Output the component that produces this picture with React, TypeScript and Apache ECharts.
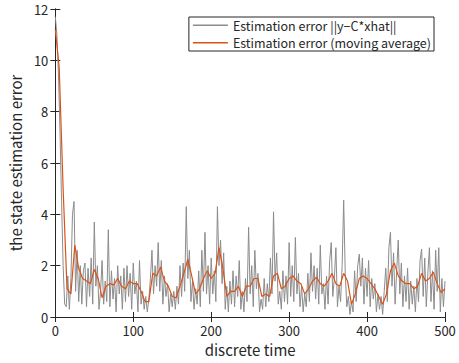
import React, { useEffect, useRef } from "react";
import * as echarts from "echarts";

// raw error ||y - C*xhat||, sampled every 2 time steps (t = 0, 2, ..., 500)
const rawStep = 2;
const rawError = [
  11.7, 11.0, 9.5, 7.2, 4.5, 2.0, 0.5, 0.4, 1.6, 0.3,
  1.5, 4.0, 4.5, 1.0, 2.6, 0.6, 2.0, 0.5, 1.8, 2.1,
  0.4, 1.9, 0.8, 2.3, 0.5, 3.7, 1.2, 2.0, 0.3, 1.0,
  2.2, 0.5, 1.4, 0.6, 3.4, 0.4, 1.8, 0.7, 1.5, 0.2,
  2.0, 0.9, 1.6, 0.3, 1.9, 0.6, 2.0, 0.8, 1.7, 0.3,
  2.1, 0.9, 1.4, 0.2, 2.2, 0.5, 1.0, 0.3, 0.8, 0.2,
  0.7, 1.5, 2.6, 0.9, 2.0, 1.2, 2.9, 1.0, 2.2, 0.5,
  1.6, 0.8, 1.3, 0.2, 0.9, 0.4, 1.0, 0.3, 1.2, 0.5,
  2.0, 0.8, 2.1, 1.0, 4.3, 1.5, 2.6, 0.6, 1.4, 0.3,
  1.1, 0.5, 1.8, 0.4, 2.6, 1.0, 3.3, 0.9, 2.0, 0.5,
  2.3, 0.9, 1.8, 0.6, 4.3, 2.0, 3.0, 1.3, 2.5, 0.3,
  1.2, 0.2, 1.4, 0.5, 1.8, 0.4, 1.6, 0.8, 2.2, 0.3,
  1.0, 0.2, 1.5, 0.6, 3.5, 0.9, 2.0, 0.4, 2.6, 1.1,
  1.7, 0.2, 0.7, 0.3, 1.5, 0.4, 1.3, 0.6, 2.3, 0.9,
  4.1, 1.4, 2.5, 0.5, 1.0, 0.3, 1.8, 0.6, 1.6, 0.5,
  2.9, 0.8, 2.0, 0.6, 3.1, 0.9, 1.7, 0.4, 1.2, 0.2,
  0.9, 0.4, 1.7, 0.6, 2.5, 1.0, 2.0, 0.7, 1.9, 0.5,
  2.8, 0.9, 1.3, 0.3, 1.6, 0.5, 2.2, 2.9, 0.8, 1.5,
  2.7, 0.4, 1.2, 0.6, 2.0, 4.55, 1.7, 0.4, 0.8, 0.1,
  0.6, 0.2, 1.8, 0.6, 2.0, 2.45, 1.2, 2.3, 0.5, 1.9,
  0.8, 2.2, 0.4, 1.5, 0.7, 1.3, 0.2, 0.9, 0.3, 0.8,
  0.1, 1.0, 1.9, 0.6, 2.7, 3.3, 1.2, 2.5, 0.5, 1.8,
  3.0, 0.9, 2.1, 0.4, 1.6, 0.6, 1.9, 0.3, 1.4, 0.5,
  1.2, 0.2, 1.5, 0.6, 2.2, 2.65, 0.8, 2.3, 0.4, 1.7,
  2.7, 0.6, 1.8, 0.3, 2.6, 1.0, 2.7, 0.2, 1.5, 0.4,
  1.4,
];

// moving average, sampled every 5 time steps (t = 0, 5, ..., 500)
const avgStep = 5;
const movingAvg = [
  11.2, 9.7, 5.0, 1.1, 0.9, 2.8, 1.9, 1.5, 1.4, 1.3,
  1.85, 1.5, 0.75, 1.2, 1.3, 1.25, 1.5, 1.2, 1.1, 1.4,
  1.3, 1.3, 1.0, 0.6, 0.6, 1.7, 1.6, 1.95, 1.4, 1.2,
  0.8, 0.75, 1.2, 1.7, 2.25, 1.6, 0.9, 1.1, 1.5, 1.8,
  1.5, 1.7, 2.7, 1.9, 0.8, 1.0, 1.0, 1.2, 0.8, 1.2,
  1.2, 1.5, 1.5, 0.8, 0.9, 0.8, 1.6, 1.7, 1.1, 1.2,
  1.5, 1.6, 1.4, 1.3, 0.9, 1.1, 1.4, 1.55, 1.3, 1.2,
  1.4, 1.7, 1.3, 1.2, 1.7, 1.4, 0.5, 0.9, 1.5, 1.6,
  1.5, 1.3, 1.1, 0.8, 0.5, 0.9, 1.8, 2.1, 1.6, 1.4,
  1.3, 1.3, 1.1, 1.2, 1.7, 1.4, 1.5, 1.75, 1.3, 0.95,
  1.1,
];

const xTicks = [0, 100, 200, 300, 400, 500];
const yTicks = [0, 2, 4, 6, 8, 10, 12];
const seriesNames = [
  "Estimation error ||y−C*xhat||",
  "Estimation error (moving average)",
];
const xTitle = "discrete time";
const yTitle = "the state estimation error";

const FONT = "'Noto Sans CJK JP', 'Noto Sans', sans-serif";
const INK = "#262626";
const GRAY = "#8c8c8c";
const ORANGE = "#d95319";

export default function App() {
  const ref = useRef<HTMLDivElement>(null);
  useEffect(() => {
    if (!ref.current) return;
    const chart = echarts.init(ref.current, undefined, { renderer: "svg" });
    const xMin = xTicks[0];
    const xMax = xTicks[xTicks.length - 1];
    const xInt = xTicks[1] - xTicks[0];
    const yMin = yTicks[0];
    const yMax = yTicks[yTicks.length - 1];
    const yInt = yTicks[1] - yTicks[0];
    const axisCommon = {
      type: "value" as const,
      splitLine: { show: false },
      axisLine: { show: true, lineStyle: { color: INK, width: 1 } },
      axisTick: { show: true, inside: true, length: 5, lineStyle: { color: INK } },
    };
    chart.setOption({
      animation: false,
      backgroundColor: "#ffffff",
      grid: { left: 53, right: 14, top: 9, bottom: 46, containLabel: false },
      legend: {
        orient: "vertical",
        right: 25,
        top: 17,
        icon: "rect",
        itemWidth: 35,
        itemHeight: 1.5,
        itemGap: 5,
        padding: [2, 3, 2, 4],
        borderColor: INK,
        borderWidth: 1,
        borderRadius: 0,
        backgroundColor: "#ffffff",
        textStyle: { fontFamily: FONT, fontSize: 12.5, lineHeight: 11.5, color: INK },
        data: [
          { name: seriesNames[0], itemStyle: { color: GRAY } },
          { name: seriesNames[1], itemStyle: { color: ORANGE } },
        ],
      },
      xAxis: [
        {
          ...axisCommon,
          min: xMin,
          max: xMax,
          interval: xInt,
          axisLabel: { fontFamily: FONT, fontSize: 13, color: INK, margin: 7 },
          name: xTitle,
          nameLocation: "middle",
          nameGap: 23,
          nameTextStyle: { fontFamily: FONT, fontSize: 15, color: INK },
        },
        {
          ...axisCommon,
          position: "top",
          min: xMin,
          max: xMax,
          interval: xInt,
          axisLabel: { show: false },
        },
      ],
      yAxis: [
        {
          ...axisCommon,
          min: yMin,
          max: yMax,
          interval: yInt,
          axisLabel: { fontFamily: FONT, fontSize: 13, color: INK, margin: 7 },
          name: yTitle,
          nameLocation: "middle",
          nameGap: 21,
          nameTextStyle: { fontFamily: FONT, fontSize: 15, color: INK },
        },
        {
          ...axisCommon,
          position: "right",
          min: yMin,
          max: yMax,
          interval: yInt,
          axisLabel: { show: false },
        },
      ],
      series: [
        {
          name: seriesNames[0],
          type: "line",
          symbol: "none",
          data: rawError.map((v, i) => [i * rawStep, v]),
          lineStyle: { color: GRAY, width: 1 },
          itemStyle: { color: GRAY },
          z: 2,
        },
        {
          name: seriesNames[1],
          type: "line",
          symbol: "none",
          data: movingAvg.map((v, i) => [i * avgStep, v]),
          lineStyle: { color: ORANGE, width: 1.2 },
          itemStyle: { color: ORANGE },
          z: 3,
        },
      ],
    });
    return () => chart.dispose();
  }, []);
  return <div ref={ref} style={{ width: 459, height: 363, position: "absolute", left: 0, top: 0 }} />;
}
